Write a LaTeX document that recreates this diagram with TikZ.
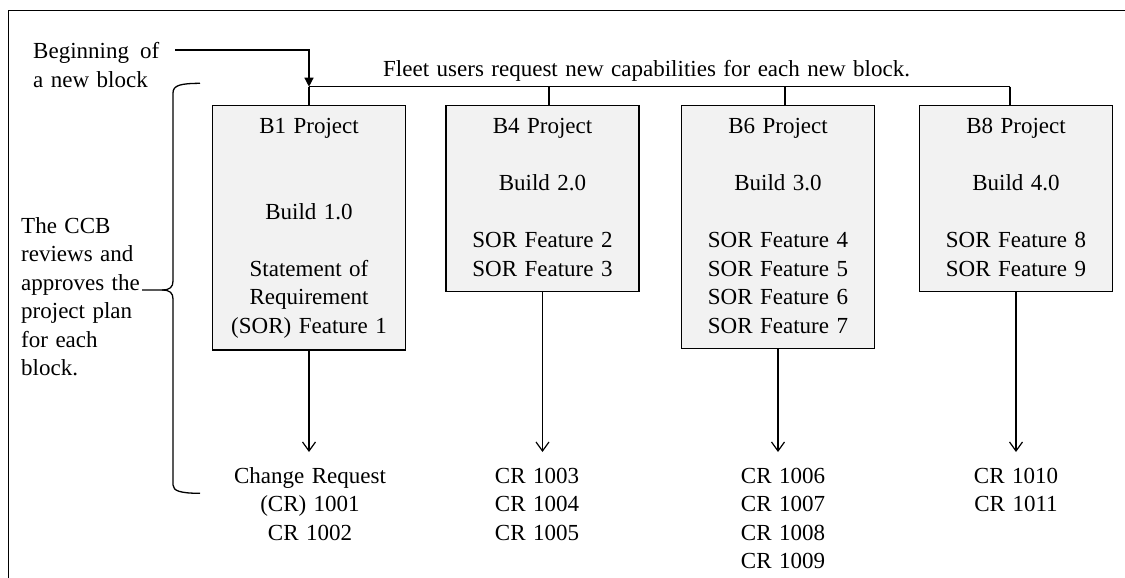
\documentclass[tikz,border=0pt]{standalone}
\usepackage{fontspec}
\setmainfont{Liberation Serif}
\usetikzlibrary{arrows.meta,calc}

\definecolor{boxfill}{RGB}{242,242,242}

\newcommand{\diagfont}{\fontsize{23pt}{28.5pt}\selectfont\spaceskip=7.5pt plus 1pt minus 1pt\relax}
\newcommand{\topstrut}{\rule{0pt}{16pt}}
\newcommand{\botstrut}{\rule[-3.5pt]{0pt}{3.5pt}}

\tikzset{
  txt/.style={font=\diagfont, inner sep=0pt},
  projbox/.style={txt, draw, fill=boxfill, line width=1.3pt, anchor=north,
    minimum width=193pt, inner xsep=0pt, inner ysep=12pt, align=center},
  crlist/.style={txt, anchor=north, inner ysep=15pt, align=center},
  conn/.style={line width=1.3pt},
  down/.style={conn, -{Straight Barb[length=9pt,width=13pt,line width=1.2pt]}},
}

\begin{document}
\begin{tikzpicture}[x=1pt,y=-1pt]
  % outer frame (open at right and bottom)
  \draw[line width=1.6pt] (8.3,578) -- (8.3,10.7) -- (1125,10.7);

  % side notes
  \node[txt, anchor=north west, align=left] (begin) at (33,42.3)
    {Beginning\hspace{11pt}of\\a new block};
  \node[txt, anchor=base west] (fleet) at (383,77)
    {Fleet users request new capabilities for each new block.};
  \node[txt, anchor=north west, align=left] (ccb) at (21,217)
    {The CCB\\reviews and\\approves the\\project plan\\for each\\block.};

  % project blocks
  \node[projbox] (b1) at (309,105)
    {\topstrut B1 Project\\[57pt]Build 1.0\\[28.5pt]Statement of\\Requirement\\(SOR) Feature 1\botstrut};
  \node[projbox] (b4) at (542.5,105)
    {\topstrut B4 Project\\[28.5pt]Build 2.0\\[28.5pt]SOR Feature 2\\SOR Feature 3\botstrut};
  \node[projbox] (b6) at (778,105)
    {\topstrut B6 Project\\[28.5pt]Build 3.0\\[28.5pt]SOR Feature 4\\SOR Feature 5\\SOR Feature 6\\SOR Feature 7\botstrut};
  \node[projbox] (b8) at (1016,105)
    {\topstrut B8 Project\\[28.5pt]Build 4.0\\[28.5pt]SOR Feature 8\\SOR Feature 9\botstrut};

  % change requests
  \node[crlist] (cr1) at (310,452) {\topstrut Change Request\\(CR) 1001\\CR 1002};
  \node[crlist] (cr4) at (537,452) {\topstrut CR 1003\\CR 1004\\CR 1005};
  \node[crlist] (cr6) at (783,452) {\topstrut CR 1006\\CR 1007\\CR 1008\\CR 1009};
  \node[crlist] (cr8) at (1016,452) {\topstrut CR 1010\\CR 1011};

  % request bus across the top of the blocks
  \coordinate (bstart) at (175,50);
  \coordinate (j1) at (309,86.7);
  \coordinate (j4) at (549,86.7);
  \coordinate (j6) at (785,86.7);
  \coordinate (j8) at (1010,86.7);
  \draw[conn] (j1) -- (j8);
  \draw[conn] (j1) -- (j1 |- b1.north);
  \draw[conn] (j4) -- (j4 |- b4.north);
  \draw[conn] (j6) -- (j6 |- b6.north);
  \draw[conn] (j8) -- (j8 |- b8.north);
  \draw[conn, -{Triangle[length=9pt,width=9pt]}] (bstart) -| (j1);

  % blocks to change requests
  \draw[down] (b1.south) -- (b1.south |- cr1.north);
  \draw[down] (b4.south) -- (b4.south |- cr4.north);
  \draw[down] (b6.south) -- (b6.south |- cr6.north);
  \draw[down] (b8.south) -- (b8.south |- cr8.north);

  % CCB brace
  \coordinate (brtop) at (200,83.3);
  \coordinate (brtip) at (162,290);
  \coordinate (brlead) at (142,290);
  \coordinate (brbot) at (200,493.3);
  \draw[conn] (brtop) .. controls (181,83.5) and (173,85) .. (173,93)
    -- (173,281) .. controls (173,287) and (170,290) .. (brtip) -- (brlead);
  \draw[conn] (brtip) .. controls (170,290) and (173,293) .. (173,299)
    -- (173,485) .. controls (173,491) and (181,493.3) .. (brbot);

  \pgfresetboundingbox
  \useasboundingbox (0,0) rectangle (1125,578);
\end{tikzpicture}
\end{document}
